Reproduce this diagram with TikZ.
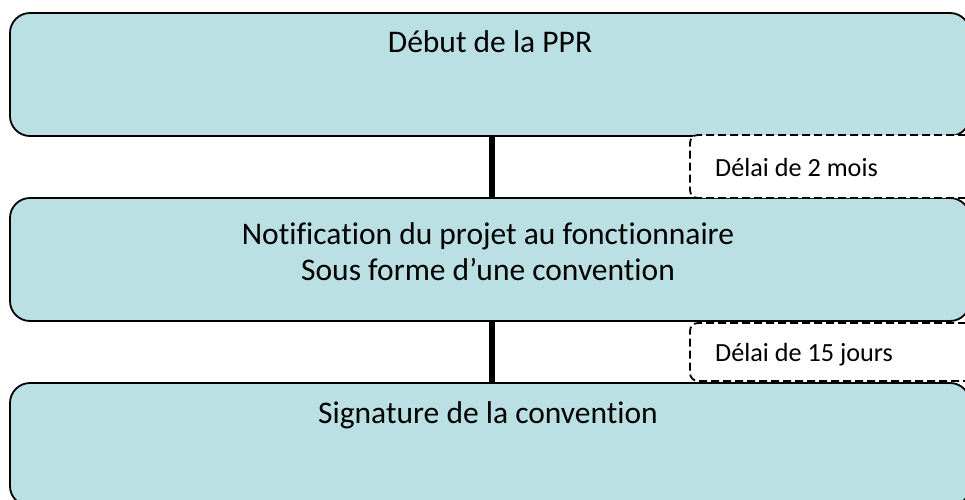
\documentclass[tikz,border=0pt]{standalone}
\usepackage{fontspec}
\setmainfont{Carlito}[Ligatures={NoCommon}]
\definecolor{boxfill}{RGB}{187,224,227}
\begin{document}
\begin{tikzpicture}[x=1pt,y=-1pt,
  mainbox/.style={draw=black, line width=1.8pt, fill=boxfill, rounded corners=20pt,
    minimum width=960pt, minimum height=123pt, inner sep=0pt},
  delaybox/.style={draw=black, line width=1.8pt, fill=white, rounded corners=8pt,
    dash pattern=on 8pt off 4pt, minimum width=284pt, inner sep=0pt},
  maintext/.style={font=\fontsize{31.5}{36}\selectfont, inner sep=0pt, anchor=base},
  delaytext/.style={font=\fontsize{26.2}{31}\selectfont, inner sep=0pt, anchor=base west},
  conn/.style={line width=5.5pt}]
\useasboundingbox (0,0) rectangle (965,499);
\clip (0,0) rectangle (965,499);
% main boxes
\node[mainbox] (b1) at (490,74.5) {};
\node[mainbox] (b2) at (490,259.5) {};
\node[mainbox] (b3) at (490,444.5) {};
% connectors
\draw[conn] ([xshift=2pt]b1.south) -- ([xshift=2pt]b2.north);
\draw[conn] ([xshift=2pt]b2.south) -- ([xshift=2pt]b3.north);
% delay boxes
\node[delaybox, minimum height=63pt] (d1) at (832,166.5) {};
\node[delaybox, minimum height=58pt] (d2) at (832,352) {};
% texts
\node[maintext] (t1) at (490,52) {Début de la PPR};
\node[maintext] (t2a) at (488,244) {Notification du projet au fonctionnaire};
\node[maintext] (t2b) at (488,280) {Sous forme d’une convention};
\node[maintext] (t3) at (488,423) {Signature de la convention};
\node[delaytext] (dt1) at (715,176) {Délai de 2 mois};
\node[delaytext] (dt2) at (715,361) {Délai de 15 jours};
\end{tikzpicture}
\end{document}
